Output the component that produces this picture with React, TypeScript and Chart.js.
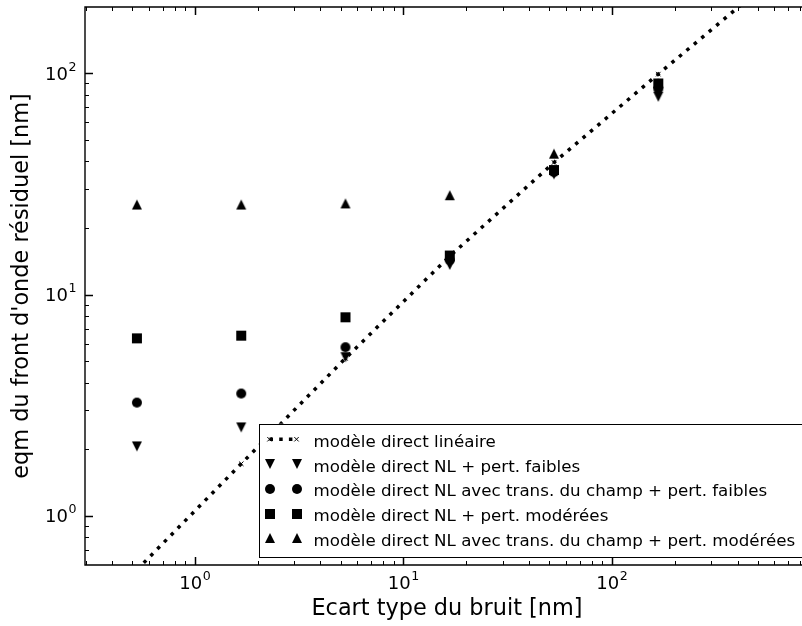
import React, { useEffect, useRef } from 'react';
import { Chart, registerables } from 'chart.js';

Chart.register(...registerables);

const FONT = '"DejaVu Sans", "Liberation Sans", sans-serif';

// ---- data ----
const NOISE_STD = [0.527, 1.667, 5.27, 16.67, 52.7, 166.7];
const LINEAR_NOISE_STD = [0.527, 1.667, 5.27, 16.67, 52.7, 166.7, 527];
const LINEAR_RMS = [0.571, 1.72, 5.15, 14.9, 39.5, 99, 245];
const NL_WEAK_RMS = [2.06, 2.51, 5.21, 13.6, 34.9, 78.2];
const NL_FIELD_WEAK_RMS = [3.25, 3.57, 5.78, 14.3, 35.7, 85];
const NL_MODERATE_RMS = [6.34, 6.52, 7.89, 15.0, 36.5, 89.8];
const NL_FIELD_MODERATE_RMS = [25.5, 25.5, 25.8, 28.1, 43.3, 90];

const SERIES_LABELS = [
  'modèle direct linéaire',
  'modèle direct NL + pert. faibles',
  'modèle direct NL avec trans. du champ + pert. faibles',
  'modèle direct NL + pert. modérées',
  'modèle direct NL avec trans. du champ + pert. modérées',
];
const X_TITLE = 'Ecart type du bruit [nm]';
const Y_TITLE = "eqm du front d'onde résiduel [nm]";
const X_TICK_EXPONENTS = [0, 1, 2];
const Y_TICK_EXPONENTS = [0, 1, 2];
// the reference picture cuts the axes just before their right spine
const X_MIN = 0.297;
const X_MAX = 815;
const Y_MIN = 0.6;
const Y_MAX = 199;

function makeMarker(kind: string): HTMLCanvasElement {
  const S = 12;
  const c = document.createElement('canvas');
  c.width = S;
  c.height = S;
  const ctx = c.getContext('2d') as CanvasRenderingContext2D;
  const m = S / 2;
  const h = 5;
  ctx.fillStyle = '#000';
  ctx.beginPath();
  if (kind === 'triUp') {
    ctx.moveTo(m, m - h);
    ctx.lineTo(m + h, m + h);
    ctx.lineTo(m - h, m + h);
    ctx.closePath();
  } else if (kind === 'triDown') {
    ctx.moveTo(m, m + h);
    ctx.lineTo(m + h, m - h);
    ctx.lineTo(m - h, m - h);
    ctx.closePath();
  } else if (kind === 'square') {
    ctx.rect(m - h, m - h, 2 * h, 2 * h);
  } else {
    ctx.arc(m, m, h, 0, Math.PI * 2);
  }
  ctx.fill();
  return c;
}

function logTickValues(min: number, max: number): { v: number; major: boolean }[] {
  const out: { v: number; major: boolean }[] = [];
  const e0 = Math.floor(Math.log10(min));
  const e1 = Math.ceil(Math.log10(max));
  for (let e = e0; e <= e1; e++) {
    for (let k = 1; k <= 9; k++) {
      const v = k * Math.pow(10, e);
      if (v >= min * 0.999 && v <= max * 1.001) out.push({ v, major: k === 1 });
    }
  }
  return out;
}

export default function App() {
  const ref = useRef<HTMLCanvasElement | null>(null);

  useEffect(() => {
    const canvas = ref.current;
    if (!canvas) return;
    const markers = {
      triDown: makeMarker('triDown'),
      circle: makeMarker('circle'),
      square: makeMarker('square'),
      triUp: makeMarker('triUp'),
    };
    const markerSeries = [
      { label: SERIES_LABELS[1], values: NL_WEAK_RMS, style: markers.triDown, order: 4 },
      { label: SERIES_LABELS[2], values: NL_FIELD_WEAK_RMS, style: markers.circle, order: 3 },
      { label: SERIES_LABELS[3], values: NL_MODERATE_RMS, style: markers.square, order: 2 },
      { label: SERIES_LABELS[4], values: NL_FIELD_MODERATE_RMS, style: markers.triUp, order: 1 },
    ];

    const LINE_W = 3.5;
    const LINE_DASH = [3.5, 6.2];
    const HIDDEN_RIGHT = 7; // part of the axes box beyond the picture's right edge

    const mplPlugin = {
      id: 'mplFrame',
      afterDraw(chart: any) {
        const { ctx, chartArea: a } = chart;
        const xs = chart.scales.x;
        const ys = chart.scales.y;
        ctx.save();
        ctx.strokeStyle = '#000';
        // inward ticks
        for (const t of logTickValues(X_MIN, X_MAX)) {
          const px = Math.round(xs.getPixelForValue(t.v)) + 0.5;
          if (px < a.left + 1 || px > a.right) continue;
          const len = t.major ? 8 : 4;
          ctx.lineWidth = t.major ? 1.5 : 1;
          ctx.beginPath();
          ctx.moveTo(px, a.bottom);
          ctx.lineTo(px, a.bottom - len);
          ctx.moveTo(px, a.top);
          ctx.lineTo(px, a.top + len);
          ctx.stroke();
        }
        for (const t of logTickValues(Y_MIN, Y_MAX)) {
          const py = Math.round(ys.getPixelForValue(t.v)) + 0.5;
          if (py < a.top + 1 || py > a.bottom - 1) continue;
          const len = t.major ? 8 : 4;
          ctx.lineWidth = t.major ? 1.5 : 1;
          ctx.beginPath();
          ctx.moveTo(a.left, py);
          ctx.lineTo(a.left + len, py);
          ctx.stroke();
        }
        // frame: left, top and bottom spines (right spine lies outside the picture)
        ctx.lineWidth = 1.4;
        ctx.beginPath();
        ctx.moveTo(a.right + 2, a.top);
        ctx.lineTo(a.left, a.top);
        ctx.lineTo(a.left, a.bottom);
        ctx.lineTo(a.right + 2, a.bottom);
        ctx.stroke();

        // tick labels (10^n)
        ctx.fillStyle = '#000';
        ctx.textBaseline = 'alphabetic';
        const bigFont = `18px ${FONT}`;
        const supFont = `12.6px ${FONT}`;
        const measure = (exp: number) => {
          ctx.font = bigFont;
          const w1 = ctx.measureText('10').width;
          ctx.font = supFont;
          const w2 = ctx.measureText(String(exp)).width;
          return { w1, w2 };
        };
        const drawLabel = (exp: number, left: number, base: number) => {
          const { w1 } = measure(exp);
          ctx.font = bigFont;
          ctx.textAlign = 'left';
          ctx.fillText('10', left, base);
          ctx.font = supFont;
          ctx.fillText(String(exp), left + w1 + 0.5, base - 9);
        };
        for (const e of X_TICK_EXPONENTS) {
          const px = xs.getPixelForValue(Math.pow(10, e));
          const { w1, w2 } = measure(e);
          drawLabel(e, px - (w1 + w2 + 0.5) / 2, a.bottom + 24);
        }
        for (const e of Y_TICK_EXPONENTS) {
          const py = ys.getPixelForValue(Math.pow(10, e));
          const { w1, w2 } = measure(e);
          drawLabel(e, a.left - 8.5 - (w1 + w2 + 0.5), py + 6.5);
        }

        // axis titles, centred on the full axes box
        ctx.font = `22.4px ${FONT}`;
        ctx.textAlign = 'center';
        ctx.textBaseline = 'alphabetic';
        ctx.fillText(X_TITLE, (a.left + a.right + HIDDEN_RIGHT) / 2, a.bottom + 49.5);
        ctx.save();
        ctx.translate(22.3, (a.top + a.bottom) / 2);
        ctx.rotate(-Math.PI / 2);
        ctx.textBaseline = 'middle';
        ctx.fillText(Y_TITLE, 0, 0);
        ctx.restore();

        // legend (lower right, inside the axes)
        const lw = 542.5;
        const lh = 133;
        const lr = a.right - 1;
        const lb = a.bottom - 8.25;
        const ll = lr - lw;
        const lt = lb - lh;
        ctx.fillStyle = '#fff';
        ctx.fillRect(ll, lt, lw, lh);
        ctx.strokeStyle = '#000';
        ctx.lineWidth = 1;
        ctx.strokeRect(Math.round(ll) + 0.5, Math.round(lt) + 0.5, Math.round(lw), Math.round(lh));
        const m1 = ll + 11;
        const m2 = ll + 38;
        const tx = ll + 55;
        const datasets = chart.data.datasets;
        for (let i = 0; i < datasets.length; i++) {
          const ds = datasets[i];
          const cy = lt + 15.5 + i * 24.8;
          if (i === 0) {
            ctx.save();
            ctx.lineWidth = LINE_W;
            ctx.setLineDash(LINE_DASH);
            ctx.beginPath();
            ctx.moveTo(m1, cy);
            ctx.lineTo(m2, cy);
            ctx.stroke();
            ctx.restore();
            ctx.lineWidth = 1;
            for (const mx of [m1, m2]) {
              ctx.beginPath();
              ctx.moveTo(mx - 2.2, cy - 2.2);
              ctx.lineTo(mx + 2.2, cy + 2.2);
              ctx.moveTo(mx - 2.2, cy + 2.2);
              ctx.lineTo(mx + 2.2, cy - 2.2);
              ctx.stroke();
            }
          } else {
            const st = ds.pointStyle as HTMLCanvasElement;
            for (const mx of [m1, m2]) {
              ctx.drawImage(st, Math.round(mx) - st.width / 2, Math.round(cy) - st.height / 2);
            }
          }
          ctx.fillStyle = '#000';
          ctx.font = `16.7px ${FONT}`;
          ctx.textAlign = 'left';
          ctx.textBaseline = 'alphabetic';
          ctx.fillText(ds.label, tx, cy + 7.5);
        }
        ctx.restore();
      },
    };

    const chart = new Chart(canvas, {
      type: 'line',
      data: {
        datasets: [
          {
            label: SERIES_LABELS[0],
            data: LINEAR_NOISE_STD.map((x, i) => ({ x, y: LINEAR_RMS[i] })),
            borderColor: '#000',
            backgroundColor: '#000',
            borderWidth: LINE_W,
            borderDash: LINE_DASH,
            borderCapStyle: 'butt',
            fill: false,
            tension: 0,
            pointStyle: 'crossRot',
            pointRadius: 3.2,
            pointBorderWidth: 1,
            pointBorderColor: '#000',
            clip: 0,
            order: 5,
          } as any,
          ...markerSeries.map((s) => ({
            label: s.label,
            data: NOISE_STD.map((x, i) => ({ x, y: s.values[i] })),
            showLine: false,
            pointStyle: s.style,
            pointRadius: 5,
            borderColor: '#000',
            backgroundColor: '#000',
            order: s.order,
          })),
        ],
      },
      options: {
        responsive: false,
        animation: false,
        devicePixelRatio: 1,
        layout: { autoPadding: false, padding: { top: 7, right: 0, left: 0, bottom: 0 } },
        plugins: { legend: { display: false }, tooltip: { enabled: false } },
        events: [],
        scales: {
          x: {
            type: 'logarithmic',
            position: 'bottom',
            min: X_MIN,
            max: X_MAX,
            grid: { display: false },
            border: { display: false },
            ticks: { display: false },
            title: { display: false, text: X_TITLE },
            afterFit: (s: any) => {
              s.height = 61;
            },
          },
          y: {
            type: 'logarithmic',
            position: 'left',
            min: Y_MIN,
            max: Y_MAX,
            grid: { display: false },
            border: { display: false },
            ticks: { display: false },
            title: { display: false, text: Y_TITLE },
            afterFit: (s: any) => {
              s.width = 85;
            },
          },
        },
      } as any,
      plugins: [mplPlugin],
    });
    return () => chart.destroy();
  }, []);

  return (
    <div
      style={{
        position: 'absolute',
        left: 0,
        top: 0,
        width: 802,
        height: 626,
        overflow: 'hidden',
        background: '#fff',
      }}
    >
      <canvas ref={ref} width={802} height={626} style={{ display: 'block', width: 802, height: 626 }} />
    </div>
  );
}
